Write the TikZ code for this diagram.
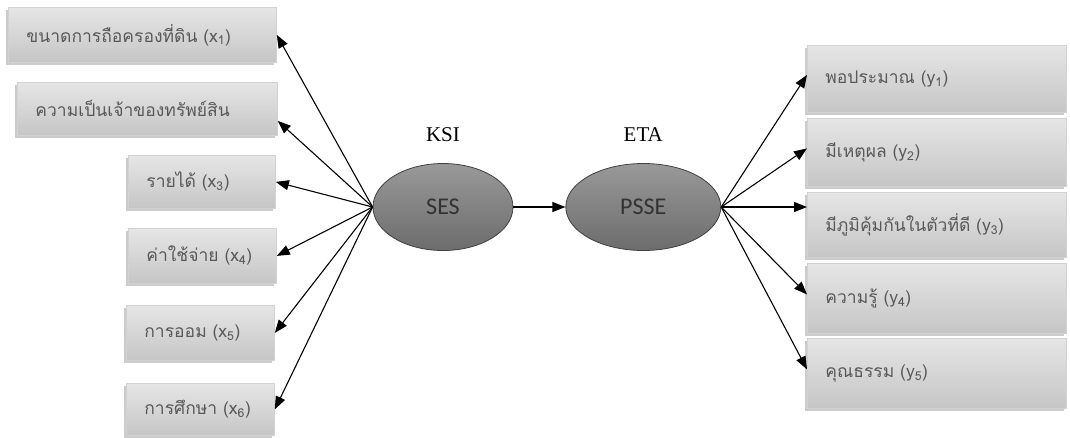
\documentclass[tikz,border=0pt]{standalone}
\usepackage{fontspec}
\setmainfont{Liberation Serif}
\newfontfamily\thaifont[Script=Thai]{Loma}
\newfontfamily\latfont{Carlito}
\usepackage{tikz}
\usetikzlibrary{arrows.meta, positioning, calc, shapes.geometric, shadows}

\tikzset{
  varbox/.style={rectangle, draw=gray!35, line width=0.8pt,
                 top color=gray!20, bottom color=gray!45,
                 drop shadow={shadow xshift=-2pt, shadow yshift=-3pt, fill=gray!80},
                 text=black!65, font=\thaifont\fontsize{17.5}{20}\selectfont,
                 align=left, inner xsep=18pt, inner ysep=0pt, anchor=north west},
  latent/.style={ellipse, draw=gray!50!black, line width=0.8pt,
                 top color=gray!80, middle color=gray, bottom color=gray!85!black,
                 minimum height=87pt, inner sep=0pt,
                 text=black!80, font=\latfont\fontsize{24}{26}\selectfont},
  tag/.style={inner sep=0pt, font=\fontsize{21}{24}\selectfont},
  arr/.style={-{Triangle[length=13pt, width=10pt]}, line width=1.1pt, black}
}

\begin{document}
\begin{tikzpicture}[x=1pt, y=-1pt]
\useasboundingbox (0,0) rectangle (1070,437);

% ตัวแปรสังเกตได้ฝั่ง x
\node[varbox, minimum height=55pt, text width=232pt] (x1) at (8,7)   {ขนาดการถือครองที่ดิน (x\textsubscript{1})};
\node[varbox, minimum height=53pt, text width=224pt] (x2) at (17,82) {ความเป็นเจ้าของทรัพย์สิน};
\node[varbox, minimum height=53pt, text width=111pt] (x3) at (128,155) {รายได้ (x\textsubscript{3})};
\node[varbox, minimum height=55pt, text width=112pt] (x4) at (128,228) {ค่าใช้จ่าย (x\textsubscript{4})};
\node[varbox, minimum height=55pt, text width=112pt] (x5) at (126,305) {การออม (x\textsubscript{5})};
\node[varbox, minimum height=52pt, text width=112pt] (x6) at (126,383) {การศึกษา (x\textsubscript{6})};

% ตัวแปรแฝง
\node[latent, minimum width=140pt] (ses) at (443,207) {SES};
\node[latent, minimum width=155pt, right=52pt of ses] (psse) {PSSE};
\node[tag, above=21pt of ses]  (ksi) {KSI};
\node[tag, above=21pt of psse] (eta) {ETA};

% ตัวแปรสังเกตได้ฝั่ง y
\node[varbox, minimum height=67pt, text width=223pt] (y1) at (807,45)  {พอประมาณ (y\textsubscript{1})};
\node[varbox, minimum height=68pt, text width=223pt] (y2) at (807,118) {มีเหตุผล (y\textsubscript{2})};
\node[varbox, minimum height=65pt, text width=223pt] (y3) at (807,192) {มีภูมิคุ้มกันในตัวที่ดี (y\textsubscript{3})};
\node[varbox, minimum height=70pt, text width=223pt] (y4) at (807,263) {ความรู้ (y\textsubscript{4})};
\node[varbox, minimum height=70pt, text width=223pt] (y5) at (807,338) {คุณธรรม (y\textsubscript{5})};

% ลูกศร
\foreach \n in {x1,x3,x4,x5,x6}
  \draw[arr] (ses.west) -- (\n.east);
\draw[arr] (ses.west) -- ([yshift=-12pt]x2.east);
\draw[arr] (ses.east) -- (psse.west);
\foreach \n in {y1,y2,y4,y5}
  \draw[arr] (psse.east) -- ([yshift=4pt]\n.west);
\draw[arr] (psse.east) -- (psse.east -| y3.west);
\end{tikzpicture}
\end{document}
